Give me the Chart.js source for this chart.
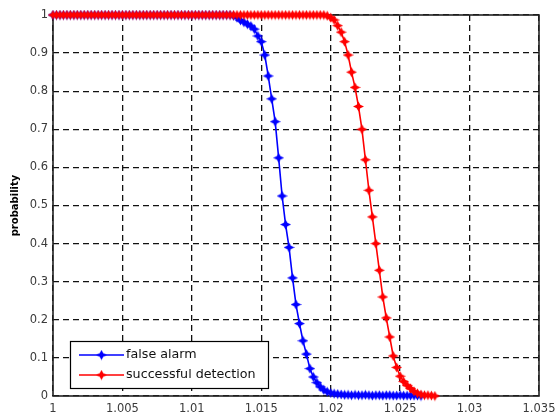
<!DOCTYPE html>
<html><head><meta charset="utf-8">
<script src="https://cdn.jsdelivr.net/npm/chart.js@4.4.0/dist/chart.umd.min.js"></script>
<style>html,body{margin:0;padding:0;background:#fff;}#wrap{width:557px;height:416px;}</style>
</head><body><div id="wrap"><canvas id="c" width="557" height="416"></canvas></div>
<script>
// threshold values (x)
const thresholds = [
1.0000,1.00025,1.0005,1.00075,1.001,1.00125,1.0015,1.00175,1.002,1.00225,1.0025,1.00275,
1.003,1.00325,1.0035,1.00375,1.004,1.00425,1.0045,1.00475,1.005,1.00525,1.0055,1.00575,
1.006,1.00625,1.0065,1.00675,1.007,1.00725,1.0075,1.00775,1.008,1.00825,1.0085,1.00875,
1.009,1.00925,1.0095,1.00975,1.010,1.01025,1.0105,1.01075,1.011,1.01125,1.0115,1.01175,
1.012,1.01225,1.0125,1.01275,1.013,1.01325,1.0135,1.01375,1.014,1.01425,1.0145,1.01475,
1.015,1.01525,1.0155,1.01575,1.016,1.01625,1.0165,1.01675,1.017,1.01725,1.0175,1.01775,
1.018,1.01825,1.0185,1.01875,1.019,1.01925,1.0195,1.01975,1.020,1.02025,1.0205,1.02075,
1.021,1.02125,1.0215,1.02175,1.022,1.02225,1.0225,1.02275,1.023,1.02325,1.0235,1.02375,
1.024,1.02425,1.0245,1.02475,1.025,1.02525,1.0255,1.02575,1.026,1.02625,1.0265,1.02675,
1.027,1.02725,1.0275];
const falseAlarm = [
1,1,1,1,1,1,1,1,1,1,1,1,1,
1,1,1,1,1,1,1,1,1,1,1,1,1,
1,1,1,1,1,1,1,1,1,1,1,1,1,
1,1,1,1,1,1,1,1,1,1,1,1,1,
0.998,0.993,0.986,0.981,0.976,0.971,0.963,0.945,0.93,0.895,0.84,0.78,0.72,0.625,0.525,0.45,
0.39,0.31,0.24,0.19,0.145,0.11,0.072,0.05,0.035,0.024,0.016,0.011,0.008,0.006,0.005,0.004,0.003,
0.003,0.002,0.003,0.002,0.002,0.003,0.002,0.001,0.002,0.002,0.001,0.002,0.002,0.001,0.001,0.002,
0.001,0.001,0.001,0.001,0.001,0];
const successfulDetection = [
1,1,1,1,1,1,1,1,1,1,1,1,1,
1,1,1,1,1,1,1,1,1,1,1,1,1,
1,1,1,1,1,1,1,1,1,1,1,1,1,
1,1,1,1,1,1,1,1,1,1,1,1,1,
1,1,1,1,1,1,1,1,1,1,1,1,1,
1,1,1,1,1,1,1,1,1,1,1,1,1,
1,
0.998,0.993,0.987,0.972,0.955,0.93,0.895,0.85,0.81,0.76,0.70,0.62,0.54,0.47,0.40,0.33,
0.26,0.205,0.155,0.105,0.075,0.052,0.038,0.028,0.02,0.012,0.007,0.004,0.002,0.002,0.001,0];
const seriesLabels = ['false alarm', 'successful detection'];
const xTickValues = [1, 1.005, 1.01, 1.015, 1.02, 1.025, 1.03, 1.035];
const xTickLabels = ['1', '1.005', '1.01', '1.015', '1.02', '1.025', '1.03', '1.035'];
const yTickValues = [0, 0.1, 0.2, 0.3, 0.4, 0.5, 0.6, 0.7, 0.8, 0.9, 1];
const yTickLabels = ['0', '0.1', '0.2', '0.3', '0.4', '0.5', '0.6', '0.7', '0.8', '0.9', '1'];
const yTitle = 'probability';

function makeMarker(color) {
  const c = document.createElement('canvas');
  c.width = 11; c.height = 11;
  const g = c.getContext('2d');
  g.fillStyle = color;
  g.beginPath();
  const cx = 5.5, cy = 5.5;
  g.moveTo(cx, cy - 5);
  g.lineTo(cx + 1.8, cy - 1.8);
  g.lineTo(cx + 5.5, cy);
  g.lineTo(cx + 1.8, cy + 1.8);
  g.lineTo(cx, cy + 5);
  g.lineTo(cx - 1.8, cy + 1.8);
  g.lineTo(cx - 5.5, cy);
  g.lineTo(cx - 1.8, cy - 1.8);
  g.closePath();
  g.fill();
  g.beginPath();
  g.moveTo(cx, cy - 3.2); g.lineTo(cx + 3.2, cy); g.lineTo(cx, cy + 3.2); g.lineTo(cx - 3.2, cy);
  g.closePath(); g.fill();
  return c;
}
const blueMarker = makeMarker('#0000ff');
const redMarker = makeMarker('#ff0000');

const pts = (ys) => ys.map((y, i) => ({x: thresholds[i], y: y}));

const tickFont = {family: 'DejaVu Sans', size: 11.5};
const tickColor = '#3a3a3a';

const framePlugin = {
  id: 'frame',
  beforeDatasetsDraw(chart) {
    const {ctx, chartArea: a} = chart;
    ctx.save();
    ctx.strokeStyle = '#222';
    ctx.lineWidth = 1.6;
    ctx.setLineDash([]);
    ctx.strokeRect(a.left, a.top, a.right - a.left, a.bottom - a.top);
    ctx.restore();
  }
};
const legendPlugin = {
  id: 'boxLegend',
  afterDatasetsDraw(chart) {
    const {ctx} = chart;
    const ds = chart.data.datasets;
    const bx = 70.5, by = 341.5, bw = 198, bh = 47;
    ctx.save();
    ctx.setLineDash([]);
    ctx.fillStyle = '#fff';
    ctx.fillRect(bx, by, bw, bh);
    ctx.strokeStyle = '#000';
    ctx.lineWidth = 1.2;
    ctx.strokeRect(bx, by, bw, bh);
    ds.forEach((d, i) => {
      const y = 355 + i * 20;
      ctx.strokeStyle = d.borderColor;
      ctx.lineWidth = 1.6;
      ctx.beginPath(); ctx.moveTo(79, y); ctx.lineTo(124, y); ctx.stroke();
      const m = d.pointStyle;
      ctx.drawImage(m, 101.5 - m.width / 2, y - m.height / 2);
      ctx.fillStyle = '#111';
      ctx.font = '12.7px "DejaVu Sans"';
      ctx.textBaseline = 'middle';
      ctx.textAlign = 'left';
      ctx.fillText(d.label, 126, y);
    });
    ctx.restore();
  }
};

new Chart(document.getElementById('c'), {
  type: 'scatter',
  data: {
    datasets: [
      {label: seriesLabels[0], data: pts(falseAlarm), borderColor: '#0000ff', backgroundColor: '#0000ff',
       showLine: true, borderWidth: 1.6, pointStyle: blueMarker, pointRadius: 4, order: 1, clip: false},
      {label: seriesLabels[1], data: pts(successfulDetection), borderColor: '#ff0000', backgroundColor: '#ff0000',
       showLine: true, borderWidth: 1.6, pointStyle: redMarker, pointRadius: 4, order: 0, clip: false}
    ]
  },
  options: {
    responsive: false, animation: false, devicePixelRatio: 1,
    layout: {padding: {left: 0, right: 18, top: 15, bottom: 0}},
    plugins: {legend: {display: false}, tooltip: {enabled: false}},
    scales: {
      x: {
        type: 'linear', min: 1, max: 1.035,
        afterBuildTicks: s => { s.ticks = xTickValues.map(v => ({value: v})); },
        afterFit: s => { s.height = 20; s.paddingLeft = 0; s.paddingRight = 0; },
        grid: {color: '#111', lineWidth: 1.3, drawTicks: false},
        border: {display: false, dash: [6, 4]},
        ticks: {padding: 6, font: tickFont, color: tickColor, maxRotation: 0, autoSkip: false,
                callback: (v, i) => xTickLabels[i]}
      },
      y: {
        type: 'linear', min: 0, max: 1,
        afterBuildTicks: s => { s.ticks = yTickValues.map(v => ({value: v})); },
        afterFit: s => { s.width = 53; s.paddingTop = 0; s.paddingBottom = 0; },
        grid: {color: '#111', lineWidth: 1.3, drawTicks: false},
        border: {display: false, dash: [6, 4]},
        ticks: {padding: 5, font: tickFont, color: tickColor, autoSkip: false,
                callback: (v, i) => yTickLabels[i]},
        title: {display: true, text: yTitle, color: '#000',
                font: {family: 'DejaVu Sans', size: 10, weight: 'bold'}, padding: {top: 9, bottom: 0}}
      }
    }
  },
  plugins: [framePlugin, legendPlugin]
});
</script></body></html>
